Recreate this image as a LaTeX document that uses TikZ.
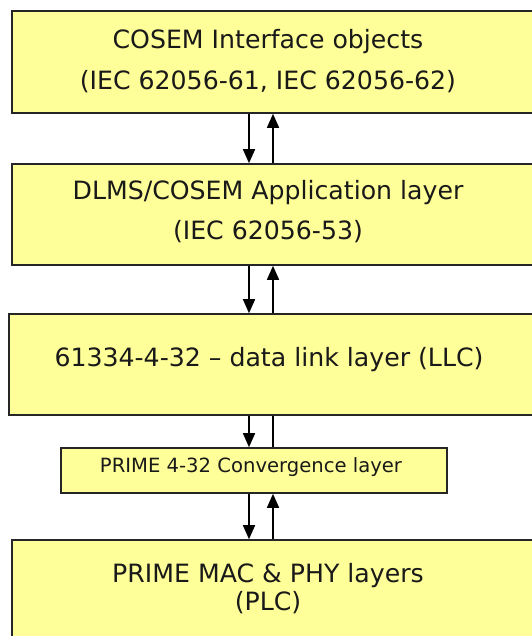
\documentclass[tikz,border=0pt]{standalone}
\usepackage{fontspec}
\setmainfont{DejaVu Sans}
\usetikzlibrary{arrows.meta}
\definecolor{capa}{RGB}{255,255,153}
\tikzset{
  layer/.style={draw=black!85, line width=1.6pt, fill=capa, inner sep=0pt},
  txt/.style={align=center, text=black!90, font=\fontsize{25.2}{41}\selectfont},
  flow/.style={line width=1.6pt, -{Triangle[length=14pt,width=12pt]}}
}
\begin{document}
\begin{tikzpicture}[x=1pt,y=-1pt]
	\useasboundingbox (0,0) rectangle (531,636);
	% Capas
		\node[layer, minimum width=533pt, minimum height=102pt] (cosem) at (278.5,62) {};
		\node[layer, minimum width=533pt, minimum height=101pt] (app) at (278.5,214.5) {};
		\node[layer, minimum width=536pt, minimum height=101pt] (llc) at (277,364.5) {};
		\node[layer, minimum width=386pt, minimum height=45pt] (conv) at (254,470.5) {};
		\node[layer, minimum width=533pt, minimum height=120pt] (plc) at (278.5,600) {};
	% Textos
		\node[txt] (cosemtxt) at (268,61) {COSEM Interface objects\\(IEC 62056-61, IEC 62056-62)};
		\node[txt, font=\fontsize{25.2}{40}\selectfont] (apptxt) at (268,212) {DLMS/COSEM Application layer\\(IEC 62056-53)};
		\node[txt] (llctxt) at (269,360) {61334-4-32 -- data link layer (LLC)};
		\node[txt, font=\fontsize{19.6}{22}\selectfont] (convtxt) at (251,467) {PRIME 4-32 Convergence layer};
		\node[txt, font=\fontsize{25.2}{28}\selectfont] (plctxt) at (268,589) {PRIME MAC \& PHY layers\\(PLC)};
	% Flechas
		\coordinate (dn) at (249,0);
		\coordinate (up) at (273,0);
		\draw[flow] (cosem.south -| dn) -- (app.north -| dn);
		\draw[flow] (app.north -| up) -- (cosem.south -| up);
		\draw[flow] (app.south -| dn) -- (llc.north -| dn);
		\draw[flow] (llc.north -| up) -- (app.south -| up);
		\draw[flow] (llc.south -| dn) -- (conv.north -| dn);
		\draw[line width=1.6pt] (conv.north -| up) -- (llc.south -| up);
		\draw[flow] (conv.south -| dn) -- (plc.north -| dn);
		\draw[flow] (plc.north -| up) -- (conv.south -| up);
\end{tikzpicture}
\end{document}
